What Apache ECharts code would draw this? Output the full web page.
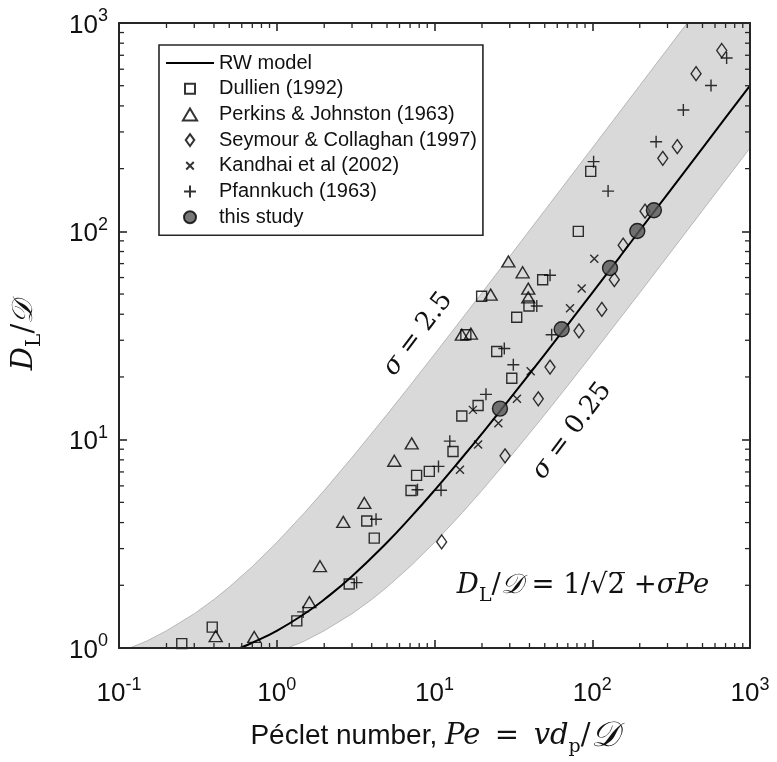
<!DOCTYPE html>
<html>
<head>
<meta charset="utf-8">
<script src="https://cdn.jsdelivr.net/npm/echarts@6/dist/echarts.min.js"></script>
<style>
  html, body { margin: 0; padding: 0; background: #ffffff; }
  #chart { width: 777px; height: 762px; }
</style>
</head>
<body>
<div id="chart"></div>
<script>
// Axis extents (log scales)
const xRange = [0.1, 1000];
const yRange = [1, 1000];

// RW model curve: [Pe, D_L/D]
const rwModel = [[0.585,1.0],[0.7,1.06],[1,1.21],[1.5,1.46],[2,1.71],[3,2.21],[5,3.21],[7,4.21],[10,5.71],[15,8.21],[20,10.7],[30,15.7],[50,25.7],[70,35.7],[100,50.7],[150,75.7],[200,101],[300,151],[500,251],[700,351],[1000,501]];

// Envelope D_L/D = 1/sqrt(2) + sigma*Pe, sigma = 2.5 (upper) and sigma = 0.25 (lower)
const bandUpper = [[0.117,1.0],[0.15,1.08],[0.2,1.21],[0.3,1.46],[0.4,1.71],[0.5,1.96],[0.7,2.46],[1,3.21],[1.5,4.46],[2,5.71],[3,8.21],[5,13.2],[7,18.2],[10,25.7],[20,50.7],[50,126],[100,251],[200,501],[400,1000]];
const bandCorner = [[1000,1000]];
const bandLower = [[1.17,1.0],[1.5,1.08],[2,1.21],[3,1.46],[4,1.71],[5,1.96],[7,2.46],[10,3.21],[15,4.46],[20,5.71],[30,8.21],[50,13.2],[70,18.2],[100,25.7],[200,50.7],[500,126],[1000,251]];

// Literature data: [Pe, D_L/D]
const dullien = [[0.25,1.05],[0.39,1.26],[1.34,1.35],[2.88,2.03],[3.72,4.07],[4.15,3.37],[7.1,5.7],[7.7,6.74],[9.27,7.04],[13.1,8.77],[14.9,13.0],[18.9,14.6],[15.8,31.9],[24.8,26.5],[30.9,19.7],[19.9,48.8],[39.7,43.8],[33.2,38.7],[48.5,58.6],[81.6,100],[97.8,194]];
const perkins = [[0.41,1.14],[0.72,1.13],[1.61,1.66],[1.88,2.47],[2.64,4.03],[3.59,4.97],[5.56,7.92],[7.17,9.6],[14.9,31.9],[17.0,32.3],[22.7,49.7],[29.4,71.7],[36.2,63.6],[39.3,53.1],[39.3,48.2]];
const seymour = [[11.1,3.23],[28.0,8.36],[45.5,15.7],[54.0,22.3],[82.4,33.3],[115,42.2],[138,58.6],[157,85.8],[216,125],[280,224],[346,255],[455,571],[662,738]];
const kandhai = [[14.5,7.17],[17.5,13.9],[18.9,9.47],[25.4,12.0],[33.3,15.7],[40.7,21.3],[72.3,42.7],[85.7,53.1],[103,73.8]];
const pfannkuch = [[1.47,1.49],[3.21,2.06],[4.26,4.15],[7.8,5.75],[10.6,7.44],[11.0,5.72],[12.5,9.84],[21.2,16.5],[27.7,27.4],[31.6,22.9],[44.5,43.8],[54.0,61.5],[55.3,31.9],[102,216],[126,156],[254,269],[378,382],[566,501],[711,679]];
const thisStudy = [[26.0,14.1],[64.0,33.9],[129.6,66.7],[193,100.3],[246,126.3]];

const seriesNames = ['RW model','Dullien (1992)','Perkins & Johnston (1963)','Seymour & Collaghan (1997)','Kandhai et al (2002)','Pfannkuch (1963)','this study'];

// marker outlines as paths so the legend keeps their proportions
const SYM_SQUARE = 'path://M0,0L10,0L10,10L0,10Z';
const SYM_TRIANGLE = 'path://M6.5,0L13,11L0,11Z';
const SYM_DIAMOND = 'path://M5,0L10,7L5,14L0,7Z';
const SYM_CROSS = 'path://M0,0L10,10M10,0L0,10';
const SYM_PLUS = 'path://M5,0L5,10M0,5L10,5';
// legend icons with an empty margin so they shrink inside the icon box
const LEG_SQUARE = 'path://M-1,-1L-1,-1M0,0L10,0L10,10L0,10ZM11,11L11,11';
const LEG_CROSS = 'path://M-3,-3L-3,-3M0,0L10,10M10,0L0,10M13,13L13,13';

// minor tick values (2..9 per decade)
function minorValues(lo, hi) {
  const out = [];
  for (let e = Math.round(Math.log10(lo)); e < Math.round(Math.log10(hi)); e++) {
    for (let m = 2; m <= 9; m++) out.push(m * Math.pow(10, e));
  }
  return out;
}
const minorX = minorValues(xRange[0], xRange[1]);
const minorY = minorValues(yRange[0], yRange[1]);

const FRAME = '#262626';
const INK = '#111111';
const SANS = 'Liberation Sans, Arial, Helvetica, sans-serif';
const SERIF = 'DejaVu Serif, serif';

const tickLabel = {
  formatter: function (v) {
    const e = Math.round(Math.log10(v));
    return '{b|10}{s|' + e + '}';
  },
  rich: {
    b: { fontFamily: SANS, fontSize: 26, color: INK, lineHeight: 31, verticalAlign: 'bottom' },
    s: { fontFamily: SANS, fontSize: 18, color: INK, lineHeight: 31, verticalAlign: 'top' }
  }
};

function frameAxis(extra) {
  return Object.assign({
    type: 'log',
    logBase: 10,
    z: 10,
    splitLine: { show: false },
    axisLine: { show: true, onZero: false, lineStyle: { color: FRAME, width: 2 } },
    axisTick: { show: true, inside: true, length: 8, lineStyle: { color: FRAME, width: 1.6 } },
    minorTick: { show: false }
  }, extra);
}

const hollow = { color: 'rgba(0,0,0,0)', borderColor: '#000', borderWidth: 1.4 };

const chart = echarts.init(document.getElementById('chart'), null, { renderer: 'canvas' });

chart.setOption({
  animation: false,
  backgroundColor: '#ffffff',
  grid: { left: 119, right: 27, top: 23, bottom: 109, containLabel: false },
  xAxis: [
    frameAxis({
      position: 'bottom', min: xRange[0], max: xRange[1],
      axisLabel: Object.assign({ margin: 28 }, tickLabel),
      name: '{t|Péclet number, }{i|Pe}{m|\u2002=\u2002}{i|vd}{u|p}{m|/}{c|𝒟}',
      nameLocation: 'middle', nameGap: 68,
      nameTextStyle: {
        rich: {
          t: { fontFamily: SANS, fontSize: 28, color: INK },
          i: { fontFamily: SERIF, fontStyle: 'italic', fontSize: 29, color: INK },
          c: { fontFamily: SERIF, fontStyle: 'italic', fontSize: 35, color: INK },
          m: { fontFamily: SERIF, fontSize: 29, color: INK },
          u: { fontFamily: SERIF, fontSize: 19, color: INK, verticalAlign: 'bottom', lineHeight: 41 }
        }
      }
    }),
    frameAxis({ position: 'top', min: xRange[0], max: xRange[1], axisLabel: { show: false } })
  ],
  yAxis: [
    frameAxis({
      position: 'left', min: yRange[0], max: yRange[1],
      axisLabel: Object.assign({ margin: 11 }, tickLabel),
      name: '{i|D}{u|L}{m|/}{i|𝒟}',
      nameLocation: 'middle', nameGap: 74,
      nameTextStyle: {
        rich: {
          i: { fontFamily: SERIF, fontStyle: 'italic', fontSize: 29, color: INK },
          m: { fontFamily: SERIF, fontSize: 29, color: INK },
          u: { fontFamily: SERIF, fontSize: 20, color: INK, verticalAlign: 'bottom', lineHeight: 41 }
        }
      }
    }),
    frameAxis({ position: 'right', min: yRange[0], max: yRange[1], axisLabel: { show: false } })
  ],
  legend: {
    orient: 'vertical',
    left: 159, top: 45,
    data: [
      { name: seriesNames[0], itemStyle: { color: 'rgba(0,0,0,0)', borderWidth: 0, opacity: 0 } },
      { name: seriesNames[1], icon: LEG_SQUARE },
      seriesNames[2],
      seriesNames[3],
      { name: seriesNames[4], icon: LEG_CROSS },
      seriesNames[5],
      seriesNames[6]
    ],
    itemWidth: 48, itemHeight: 12, itemGap: 5.7,
    symbolKeepAspect: true,
    padding: [8, 6, 8, 6],
    borderColor: FRAME, borderWidth: 1.6,
    backgroundColor: '#ffffff',
    selectedMode: false,
    textStyle: { fontFamily: SANS, fontSize: 20, lineHeight: 20, color: INK }
  },
  graphic: [
    {
      type: 'text', x: 418, y: 334, rotation: 53 * Math.PI / 180, z: 20,
      style: { text: '{i|σ} = 2.5', align: 'center', verticalAlign: 'middle',
        fontFamily: SERIF, fontSize: 26, fill: INK,
        rich: { i: { fontFamily: SERIF, fontStyle: 'italic', fontSize: 26, fill: INK } } }
    },
    {
      type: 'text', x: 572, y: 431, rotation: 53 * Math.PI / 180, z: 20,
      style: { text: '{i|σ} = 0.25', align: 'center', verticalAlign: 'middle',
        fontFamily: SERIF, fontSize: 26, fill: INK,
        rich: { i: { fontFamily: SERIF, fontStyle: 'italic', fontSize: 26, fill: INK } } }
    },
    {
      type: 'text', x: 583, y: 586, z: 20,
      style: { text: '{i|D}{u|L}/{i|𝒟} = 1/√2\u0305 +{i|σPe}', align: 'center', verticalAlign: 'middle',
        fontFamily: SERIF, fontSize: 27.5, fill: INK,
        rich: {
          i: { fontFamily: SERIF, fontStyle: 'italic', fontSize: 27.5, fill: INK },
          u: { fontFamily: SERIF, fontSize: 19, fill: INK, verticalAlign: 'bottom', lineHeight: 40 }
        } }
    }
  ],
  series: [
    {
      name: 'band', type: 'custom', silent: true, z: 1,
      data: [[1, 1]],
      renderItem: function (params, api) {
        const poly = bandUpper.concat(bandCorner, bandLower.slice().reverse());
        return {
          type: 'polygon',
          shape: { points: poly.map(function (p) { return api.coord(p); }) },
          style: { fill: '#d9d9d9', stroke: '#a9a9a9', lineWidth: 0.8 }
        };
      }
    },
    {
      name: 'minor ticks', type: 'custom', silent: true, z: 9,
      data: [[1, 1]],
      renderItem: function (params, api) {
        const kids = [];
        const L = 5;
        const st = { stroke: FRAME, lineWidth: 1.3 };
        minorX.forEach(function (v) {
          const b = api.coord([v, yRange[0]]);
          const t = api.coord([v, yRange[1]]);
          kids.push({ type: 'line', shape: { x1: b[0], y1: b[1], x2: b[0], y2: b[1] - L }, style: st });
          kids.push({ type: 'line', shape: { x1: t[0], y1: t[1], x2: t[0], y2: t[1] + L }, style: st });
        });
        minorY.forEach(function (v) {
          const l = api.coord([xRange[0], v]);
          const r = api.coord([xRange[1], v]);
          kids.push({ type: 'line', shape: { x1: l[0], y1: l[1], x2: l[0] + L, y2: l[1] }, style: st });
          kids.push({ type: 'line', shape: { x1: r[0], y1: r[1], x2: r[0] - L, y2: r[1] }, style: st });
        });
        return { type: 'group', children: kids };
      }
    },
    {
      name: 'RW model', type: 'line', data: rwModel, smooth: true, symbol: 'none', z: 3,
      lineStyle: { color: '#000', width: 2 }, itemStyle: { color: '#000' }
    },
    { name: 'Dullien (1992)', type: 'scatter', data: dullien, symbol: SYM_SQUARE, symbolSize: 10, z: 4, itemStyle: hollow },
    { name: 'Perkins & Johnston (1963)', type: 'scatter', data: perkins, symbol: SYM_TRIANGLE, symbolSize: [13, 11], z: 4, itemStyle: hollow },
    { name: 'Seymour & Collaghan (1997)', type: 'scatter', data: seymour, symbol: SYM_DIAMOND, symbolSize: [10, 14], z: 4, itemStyle: hollow },
    { name: 'Kandhai et al (2002)', type: 'scatter', data: kandhai, symbol: SYM_CROSS, symbolSize: 8, z: 4, itemStyle: hollow },
    { name: 'Pfannkuch (1963)', type: 'scatter', data: pfannkuch, symbol: SYM_PLUS, symbolSize: 12, z: 4, itemStyle: hollow },
    { name: 'this study', type: 'scatter', data: thisStudy, symbol: 'circle', symbolSize: 15, z: 5,
      itemStyle: { color: '#555555', borderColor: '#000', borderWidth: 1.4 } }
  ]
});
</script>
</body>
</html>
